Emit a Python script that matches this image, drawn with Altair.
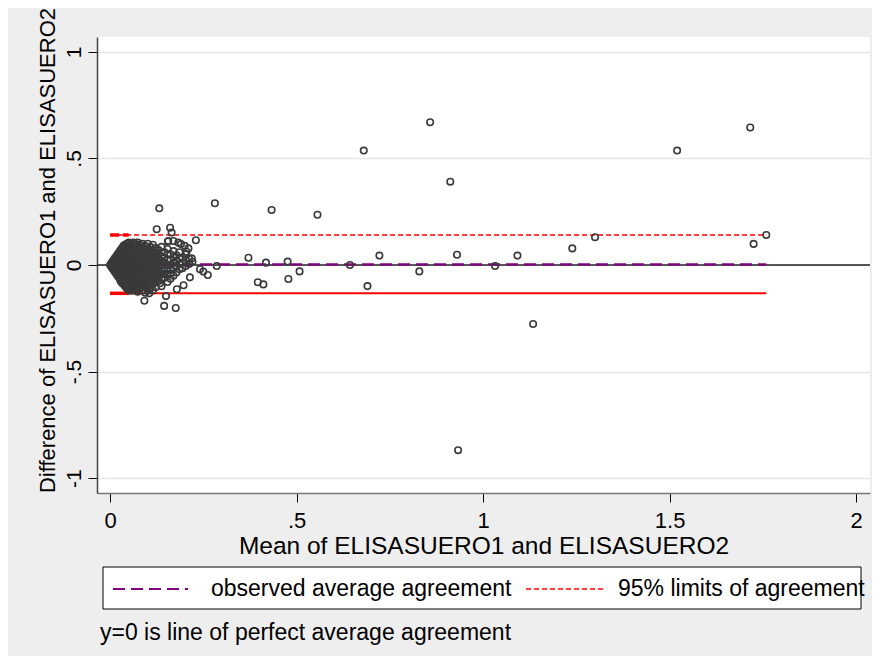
import altair as alt
import pandas as pd

FONT = "Liberation Sans"

# ---- data ----
# dense cluster near zero: (mean, [differences])
cluster_cols = [
    (0.000, [0.0]),
    (0.004, [0.01, 0.0, -0.01]),
    (0.008, [0.02, 0.005, -0.01, -0.02]),
    (0.012, [0.03, 0.015, 0.0, -0.015, -0.03]),
    (0.016, [0.04, 0.025, 0.01, -0.005, -0.02, -0.04]),
    (0.020, [0.05, 0.035, 0.02, 0.005, -0.01, -0.025, -0.04, -0.05]),
    (0.024, [0.06, 0.045, 0.03, 0.015, 0.0, -0.015, -0.03, -0.045, -0.06]),
    (0.028, [0.07, 0.055, 0.04, 0.025, 0.01, -0.005, -0.02, -0.035, -0.05, -0.065, -0.075]),
    (0.032, [0.08, 0.06, 0.045, 0.03, 0.015, 0.0, -0.015, -0.03, -0.045, -0.06, -0.075, -0.085]),
    (0.036, [0.09, 0.07, 0.055, 0.035, 0.02, 0.005, -0.01, -0.025, -0.04, -0.06, -0.075, -0.09]),
    (0.040, [0.095, 0.08, 0.06, 0.045, 0.03, 0.01, -0.005, -0.02, -0.035, -0.05, -0.07, -0.085, -0.1]),
    (0.045, [0.1, 0.085, 0.065, 0.05, 0.03, 0.015, 0.0, -0.015, -0.035, -0.05, -0.065, -0.085, -0.1, -0.11]),
    (0.050, [0.105, 0.09, 0.07, 0.055, 0.04, 0.02, 0.005, -0.01, -0.03, -0.045, -0.06, -0.08, -0.095, -0.11, -0.12]),
    (0.056, [0.1, 0.085, 0.065, 0.045, 0.025, 0.01, -0.005, -0.025, -0.04, -0.06, -0.075, -0.095, -0.11, -0.12]),
    (0.062, [0.105, 0.09, 0.07, 0.05, 0.035, 0.015, 0.0, -0.02, -0.035, -0.055, -0.07, -0.09, -0.105, -0.12]),
    (0.068, [0.1, 0.08, 0.06, 0.04, 0.025, 0.005, -0.01, -0.03, -0.045, -0.065, -0.085, -0.1, -0.115]),
    (0.074, [0.105, 0.085, 0.065, 0.045, 0.03, 0.01, -0.005, -0.025, -0.04, -0.06, -0.08, -0.095, -0.115, -0.125]),
    (0.080, [0.095, 0.075, 0.055, 0.035, 0.015, 0.0, -0.02, -0.035, -0.055, -0.075, -0.09, -0.11]),
    (0.087, [0.1, 0.08, 0.06, 0.04, 0.02, 0.005, -0.015, -0.03, -0.05, -0.07, -0.09, -0.105, -0.12]),
    (0.094, [0.09, 0.07, 0.05, 0.03, 0.01, -0.01, -0.025, -0.045, -0.065, -0.085, -0.1, -0.13]),
    (0.101, [0.1, 0.075, 0.055, 0.035, 0.015, 0.0, -0.02, -0.04, -0.06, -0.08, -0.1, -0.12]),
    (0.108, [0.085, 0.065, 0.045, 0.025, 0.005, -0.015, -0.035, -0.055, -0.075, -0.095, -0.11]),
    (0.115, [0.095, 0.07, 0.05, 0.03, 0.01, -0.01, -0.03, -0.05, -0.07, -0.09, -0.12]),
    (0.122, [0.08, 0.06, 0.04, 0.02, 0.0, -0.02, -0.04, -0.06, -0.08, -0.105]),
    (0.130, [0.07, 0.05, 0.03, 0.01, -0.01, -0.03, -0.05, -0.075]),
    (0.138, [0.085, 0.06, 0.04, 0.02, 0.0, -0.025, -0.045, -0.065, -0.1]),
    (0.146, [0.06, 0.035, 0.01, -0.015, -0.04, -0.06]),
    (0.154, [0.075, 0.05, 0.025, 0.0, -0.025, -0.045, -0.08]),
    (0.162, [0.05, 0.025, 0.0, -0.02, -0.04, -0.065]),
    (0.170, [0.065, 0.035, 0.01, -0.015, -0.05]),
    (0.178, [0.045, 0.02, -0.005, -0.035]),
    (0.186, [0.06, 0.03, 0.005, -0.02]),
    (0.194, [0.035, 0.01, -0.015]),
    (0.203, [0.05, 0.02, -0.005]),
    (0.212, [0.03, 0.005]),
    (0.221, [0.015]),
]

outlier_mean = [0.132, 0.281, 0.433, 0.125, 0.161, 0.165, 0.156, 0.170, 0.183, 0.230,
                0.371, 0.418, 0.476, 0.286, 0.262, 0.250, 0.241, 0.214, 0.197, 0.179,
                0.150, 0.092, 0.145, 0.176, 0.396, 0.411, 0.478, 0.134, 0.105, 0.210,
                0.205, 0.219, 0.200, 0.190, 0.155,
                0.858, 0.680, 0.912, 0.556, 0.508, 0.643, 0.722, 0.690, 0.829, 0.930,
                1.032, 1.092, 1.239, 1.716, 1.520, 1.300, 1.725, 1.759, 0.933, 1.134]
outlier_diff = [0.266, 0.290, 0.258, 0.168, 0.175, 0.152, 0.113, 0.113, 0.105, 0.116,
                0.034, 0.011, 0.016, -0.005, -0.047, -0.031, -0.020, -0.058, -0.095, -0.114,
                -0.146, -0.168, -0.192, -0.202, -0.081, -0.091, -0.066, -0.086, -0.133, 0.078,
                0.062, 0.031, 0.090, 0.098, 0.110,
                0.670, 0.537, 0.391, 0.236, -0.030, 0.000, 0.044, -0.099, -0.030, 0.048,
                -0.005, 0.044, 0.078, 0.645, 0.537, 0.130, 0.099, 0.141, -0.869, -0.277]

mean_range = [0.0, 1.759]
avg_diff = 0.003
upper_loa = 0.141
lower_loa = -0.133

x_ticks = [0, 0.5, 1, 1.5, 2]
x_tick_labels = ["0", ".5", "1", "1.5", "2"]
y_ticks = [-1, -0.5, 0, 0.5, 1]
y_tick_labels = ["-1", "-.5", "0", ".5", "1"]

x_title = "Mean of ELISASUERO1 and ELISASUERO2"
y_title = "Difference of ELISASUERO1 and ELISASUERO2"
legend_avg = "observed average agreement"
legend_loa = "95% limits of agreement"
note_text = "y=0 is line of perfect average agreement"

# ---- tables ----
px, py = [], []
for cx, ys in cluster_cols:
    for v in ys:
        px.append(cx)
        py.append(v)
px += outlier_mean
py += outlier_diff
points = pd.DataFrame({"x": px, "y": py})


def label_expr(vals, labs):
    e = "''"
    for v, l in zip(vals, labs):
        e = f"datum.value == {v} ? '{l}' : ({e})"
    return e


xs = alt.Scale(domain=[-0.035, 2.037], nice=False, zero=False)
ys = alt.Scale(domain=[-1.07, 1.07], nice=False, zero=False)

x_axis = alt.Axis(values=x_ticks, labelExpr=label_expr(x_ticks, x_tick_labels),
                  title=x_title, grid=False, domainColor="#777777", domainWidth=1.5,
                  tickColor="#000000", tickSize=9, tickWidth=1,
                  labelFont=FONT, labelFontSize=22, labelColor="#000000", labelPadding=8,
                  labelFlush=False, labelOverlap=False,
                  titleFont=FONT, titleFontSize=24.5, titleFontWeight="normal",
                  titleColor="#000000", titleX=386.5, titleY=60,
                  titleAlign="center", titleBaseline="alphabetic")

y_axis = alt.Axis(values=y_ticks, labelExpr=label_expr(y_ticks, y_tick_labels),
                  title=y_title, grid=True, gridColor="#e6e6e6", gridWidth=1.5,
                  domainColor="#444444", domainWidth=1.5,
                  tickColor="#000000", tickSize=9, tickWidth=1,
                  labelFont=FONT, labelFontSize=21, labelColor="#000000",
                  labelAngle=270, labelAlign="center", labelBaseline="alphabetic",
                  labelPadding=8, labelFlush=False, labelOverlap=False,
                  titleFont=FONT, titleFontSize=22, titleFontWeight="normal",
                  titleColor="#000000", titleAngle=270, titleX=-50, titleY=213,
                  titleAlign="center", titleBaseline="middle")

X = alt.X("x:Q", scale=xs, axis=x_axis)
Y = alt.Y("y:Q", scale=ys, axis=y_axis)

zero_df = pd.DataFrame({"y": [0.0]})
avg_df = pd.DataFrame({"x": [mean_range[0]], "x2": [mean_range[1]], "y": [avg_diff]})
up_df = pd.DataFrame({"x": [mean_range[0]], "x2": [mean_range[1]], "y": [upper_loa]})
lo_df = pd.DataFrame({"x": [mean_range[0]], "x2": [mean_range[1]], "y": [lower_loa]})
up_start = pd.DataFrame({"x": [mean_range[0]], "x2": [0.05], "y": [upper_loa]})
lo_start = pd.DataFrame({"x": [mean_range[0]], "x2": [0.05], "y": [lower_loa]})

zero_line = alt.Chart(zero_df).mark_rule(color="#222222", strokeWidth=1.5).encode(y=Y)
avg_line = alt.Chart(avg_df).mark_rule(color="#800080", strokeWidth=2.2, strokeDash=[12, 6]).encode(
    x=X, x2="x2", y=Y)
up_line = alt.Chart(up_df).mark_rule(color="#ff0000", strokeWidth=1.5, strokeDash=[5, 3]).encode(
    x=X, x2="x2", y=Y)
lo_line = alt.Chart(lo_df).mark_rule(color="#ff0000", strokeWidth=2).encode(x=X, x2="x2", y=Y)
up_thick = alt.Chart(up_start).mark_rule(color="#ff0000", strokeWidth=3.5, strokeDash=[9, 4]).encode(
    x=X, x2="x2", y=Y)
lo_thick = alt.Chart(lo_start).mark_rule(color="#ff0000", strokeWidth=3.5).encode(x=X, x2="x2", y=Y)

pts = alt.Chart(points).mark_point(shape="circle", filled=False, size=42, color="#3a3a3a",
                                   strokeWidth=1.6, opacity=1).encode(x=X, y=Y)

one = pd.DataFrame({"a": [0]})
box = alt.Chart(one).mark_rect(fill="white", stroke="#000000", strokeWidth=1).encode(
    x=alt.value(6), x2=alt.value(764), y=alt.value(530), y2=alt.value(572))
leg_avg = alt.Chart(one).mark_rule(color="#800080", strokeWidth=2, strokeDash=[12, 6]).encode(
    x=alt.value(16), x2=alt.value(91), y=alt.value(552))
leg_loa = alt.Chart(one).mark_rule(color="#ff0000", strokeWidth=1.5, strokeDash=[5, 3]).encode(
    x=alt.value(429), x2=alt.value(507), y=alt.value(552))
txt_style = dict(align="left", baseline="middle", font=FONT, fontSize=23, color="#000000")
t_avg = alt.Chart(one).mark_text(**txt_style).encode(
    x=alt.value(114), y=alt.value(552), text=alt.value(legend_avg))
t_loa = alt.Chart(one).mark_text(**txt_style).encode(
    x=alt.value(521), y=alt.value(552), text=alt.value(legend_loa))
t_note = alt.Chart(one).mark_text(**txt_style).encode(
    x=alt.value(3), y=alt.value(596), text=alt.value(note_text))

chart = alt.layer(
    zero_line, avg_line, up_line, lo_line, up_thick, lo_thick, pts,
    box, leg_avg, leg_loa, t_avg, t_loa, t_note
).properties(
    width=773, height=456,
    padding={"left": 89, "top": 29, "right": 2, "bottom": 163},
    autosize=alt.AutoSizeParams(type="none"),
).configure(background="#eeeeee").configure_view(fill="white", strokeWidth=0)

chart.save("out.html", embed_options={"renderer": "svg", "actions": False})
